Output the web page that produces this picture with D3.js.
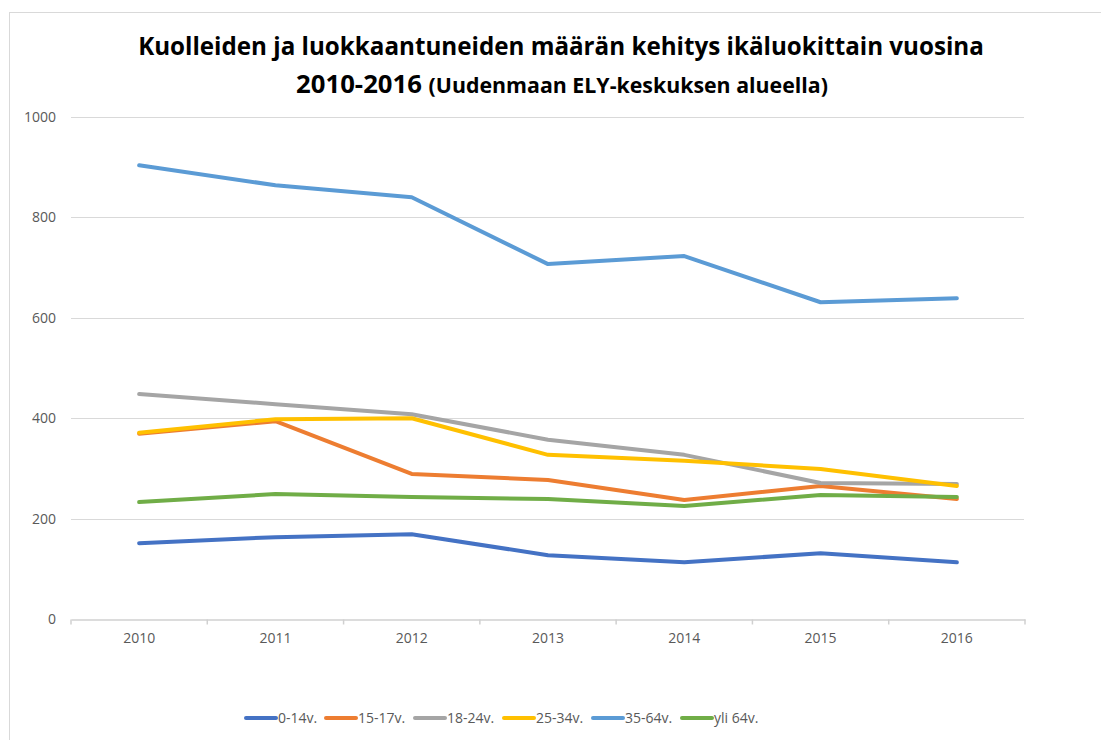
<!DOCTYPE html>
<html>
<head>
<meta charset="utf-8">
<script src="https://d3js.org/d3.v7.min.js"></script>
<style>
body { margin: 0; background: #fff; }
svg { display: block; font-family: "Open Sans", sans-serif; }
</style>
</head>
<body>
<div id="chart"></div>
<script>
var years = ["2010", "2011", "2012", "2013", "2014", "2015", "2016"];
var groups = ["0-14v.", "15-17v.", "18-24v.", "25-34v.", "35-64v.", "yli 64v."];
var colors = ["#4472C4", "#ED7D31", "#A5A5A5", "#FFC000", "#5B9BD5", "#70AD47"];
var v0_14 = [151, 163, 169, 127, 113, 131, 113];
var v15_17 = [369, 394, 289, 277, 237, 265, 239];
var v18_24 = [448, 428, 408, 357, 327, 271, 269];
var v25_34 = [371, 398, 400, 327, 315, 299, 265];
var v35_64 = [904, 864, 840, 707, 723, 631, 639];
var vYli64 = [233, 249, 243, 239, 225, 247, 243];
var yTicks = [0, 200, 400, 600, 800, 1000];

var series = [v0_14, v15_17, v18_24, v25_34, v35_64, vYli64].map(function(vals, i) {
    return {name: groups[i], color: colors[i], values: vals};
});

var W = 1101, H = 740;
var svg = d3.select("#chart").append("svg").attr("width", W).attr("height", H);

// chart frame (continues past the picture on the right and bottom)
svg.append("rect")
    .attr("x", 9.5).attr("y", 12.5)
    .attr("width", W + 20).attr("height", H + 20)
    .attr("fill", "#fff").attr("stroke", "#d9d9d9");

var x = d3.scaleBand().domain(years).range([71, 1025]);
var y = d3.scaleLinear().domain([0, 1000]).range([619, 117]);

// title
function fitText(sel, target) {
    var w = sel.node().getComputedTextLength();
    var fs = parseFloat(sel.attr("font-size"));
    sel.attr("font-size", fs * target / w);
}
var t1 = svg.append("text")
    .attr("x", 561).attr("y", 55)
    .attr("text-anchor", "middle").attr("font-weight", "bold")
    .attr("font-size", 22).attr("fill", "#000")
    .text("Kuolleiden ja luokkaantuneiden määrän kehitys ikäluokittain vuosina");
fitText(t1, 846);
var t2 = svg.append("text")
    .attr("x", 562).attr("y", 93)
    .attr("text-anchor", "middle").attr("font-weight", "bold")
    .attr("font-size", 22).attr("fill", "#000");
t2.append("tspan").text("2010-2016 ");
t2.append("tspan").attr("font-size", "0.83em").text("(Uudenmaan ELY-keskuksen alueella)");
fitText(t2, 532);

// gridlines
svg.append("g").selectAll("line")
    .data(yTicks.filter(function(d) { return d > 0; }))
    .enter().append("line")
    .attr("x1", 71).attr("x2", 1024)
    .attr("y1", function(d) { return Math.round(y(d)) + 0.5; })
    .attr("y2", function(d) { return Math.round(y(d)) + 0.5; })
    .attr("stroke", "#d9d9d9").attr("stroke-width", 1);

// y axis labels
var yAxis = d3.axisLeft(y).tickValues(yTicks).tickFormat(d3.format("d")).tickSize(0).tickPadding(0);
var gy = svg.append("g").attr("transform", "translate(56,0)").call(yAxis);
gy.select(".domain").remove();
gy.selectAll("text").attr("font-family", "Open Sans").attr("font-size", 14).attr("fill", "#595959");

// x axis
var xAxis = d3.axisBottom(x).tickSize(0).tickPadding(14);
var gx = svg.append("g").attr("transform", "translate(0," + (Math.round(y(0)) + 0.5) + ")").call(xAxis);
gx.select(".domain").attr("stroke", "#d0d0d0").attr("stroke-width", 1.5);
gx.selectAll("text").attr("font-family", "Open Sans").attr("font-size", 14).attr("fill", "#595959");
gx.selectAll(".sep").data(d3.range(years.length + 1)).enter().append("line")
    .attr("class", "sep")
    .attr("x1", function(i) { return x.range()[0] + i * x.step(); })
    .attr("x2", function(i) { return x.range()[0] + i * x.step(); })
    .attr("y1", 0).attr("y2", 5)
    .attr("stroke", "#d0d0d0").attr("stroke-width", 1.5);

// lines
var line = d3.line()
    .x(function(d, i) { return x(years[i]) + x.bandwidth() / 2; })
    .y(function(d) { return y(d); });

svg.append("g").selectAll("path")
    .data(series)
    .enter().append("path")
    .attr("d", function(d) { return line(d.values); })
    .attr("fill", "none")
    .attr("stroke", function(d) { return d.color; })
    .attr("stroke-width", 4)
    .attr("stroke-linejoin", "round")
    .attr("stroke-linecap", "round");

// legend
var legendX = [246, 326, 415, 504, 593, 682];
var lg = svg.append("g").selectAll("g")
    .data(series)
    .enter().append("g")
    .attr("transform", function(d, i) { return "translate(" + legendX[i] + ",718)"; });
lg.append("line")
    .attr("x1", 0).attr("x2", 30)
    .attr("stroke", function(d) { return d.color; })
    .attr("stroke-width", 4).attr("stroke-linecap", "round");
lg.append("text")
    .attr("x", 32).attr("dy", "0.35em")
    .attr("font-size", 14).attr("fill", "#595959")
    .text(function(d) { return d.name; });
</script>
</body>
</html>
